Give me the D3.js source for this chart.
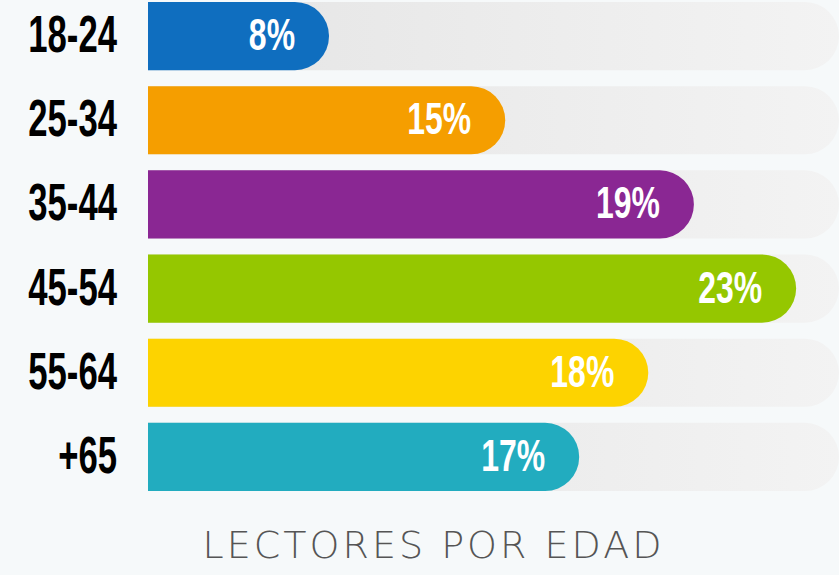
<!DOCTYPE html>
<html>
<head>
<meta charset="utf-8">
<script src="https://cdn.jsdelivr.net/npm/d3@7"></script>
<style>
  html, body { margin: 0; padding: 0; background: #f6f9fa; }
  svg { display: block; }
</style>
</head>
<body>
<svg></svg>
<script>
// age groups, shares shown and how much of the grey track each bar fills
const groups = ["18-24", "25-34", "35-44", "45-54", "55-64", "+65"];
const shares = [8, 15, 19, 23, 18, 17];
const fill = [0.262, 0.517, 0.790, 0.938, 0.724, 0.624];
const colors = ["#0f6ebf", "#f59e00", "#8a2793", "#95c700", "#fdd300", "#22acbf"];
const title = "LECTORES POR EDAD";

const width = 839, height = 575;

const svg = d3.select("svg")
  .attr("width", width)
  .attr("height", height);

const x = d3.scaleLinear()
  .domain([0, 1])
  .range([148, 839]);

const y = d3.scaleBand()
  .domain(groups)
  .range([2, 491])
  .paddingInner(0.19)
  .paddingOuter(0);

const h = y.bandwidth();
const r = h / 2;

// square on the left, half circle on the right
const pill = (x0, x1, y0) =>
  `M${x0},${y0}H${x1 - r}A${r},${r} 0 0 1 ${x1 - r},${y0 + h}H${x0}Z`;

const grad = svg.append("defs").append("linearGradient")
  .attr("id", "track")
  .attr("x1", "0%").attr("x2", "100%");
grad.append("stop").attr("offset", "0%").attr("stop-color", "#e4e4e4");
grad.append("stop").attr("offset", "100%").attr("stop-color", "#f3f3f3");

const rows = groups.map((g, i) => ({ g, share: shares[i], fill: fill[i], color: colors[i] }));

svg.selectAll(".track")
  .data(rows)
  .join("path")
  .attr("class", "track")
  .attr("fill", "url(#track)")
  .attr("d", d => pill(x(0), x(1), y(d.g)));

svg.selectAll(".bar")
  .data(rows)
  .join("path")
  .attr("class", "bar")
  .attr("fill", d => d.color)
  .attr("d", d => pill(x(0), x(d.fill), y(d.g)));

svg.selectAll(".cat")
  .data(rows)
  .join("text")
  .attr("class", "cat")
  .attr("text-anchor", "end")
  .attr("transform", d => `translate(117,${y(d.g) + r + 16}) scale(0.68,1)`)
  .style("font-family", "'Liberation Sans', Arial, sans-serif")
  .style("font-weight", "bold")
  .style("font-size", "51px")
  .attr("fill", "#000")
  .text(d => d.g);

svg.selectAll(".pct")
  .data(rows)
  .join("text")
  .attr("class", "pct")
  .attr("text-anchor", "end")
  .attr("transform", d => `translate(${x(d.fill) - 34},${y(d.g) + r + 14}) scale(0.71,1)`)
  .style("font-family", "'Liberation Sans', Arial, sans-serif")
  .style("font-weight", "bold")
  .style("font-size", "45px")
  .attr("fill", "#fff")
  .text(d => d.share + "%");

svg.append("text")
  .attr("x", 432)
  .attr("y", 558)
  .attr("text-anchor", "middle")
  .attr("textLength", 459)
  .attr("lengthAdjust", "spacing")
  .style("font-family", "'DejaVu Sans', sans-serif")
  .style("font-weight", 200)
  .style("font-size", "38px")
  .attr("fill", "#555")
  .text(title);
</script>
</body>
</html>
